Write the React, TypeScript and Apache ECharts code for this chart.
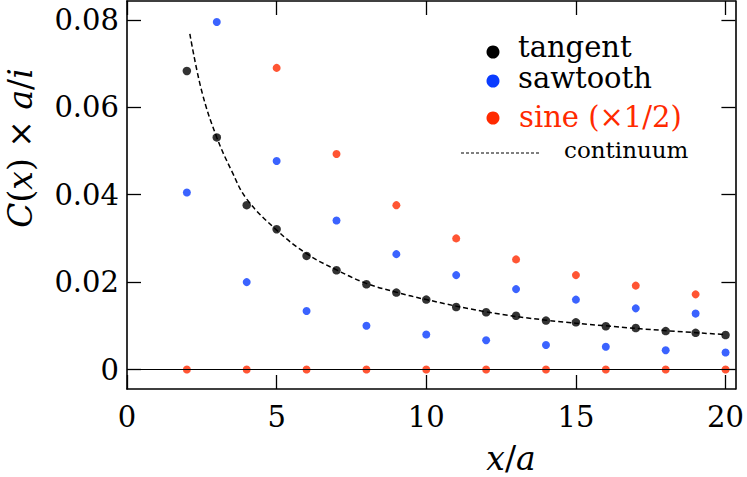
import React, { useEffect, useRef } from "react";
import * as echarts from "echarts";

const xs = [2, 3, 4, 5, 6, 7, 8, 9, 10, 11, 12, 13, 14, 15, 16, 17, 18, 19, 20];
const tangent = [0.0683, 0.0531, 0.0376, 0.0321, 0.026, 0.0227, 0.0195, 0.0176, 0.016, 0.0143, 0.0131, 0.0123, 0.0112, 0.0108, 0.0099, 0.0095, 0.0088, 0.0084, 0.0079];
const sawtooth = [0.0405, 0.0795, 0.02, 0.0477, 0.0134, 0.0341, 0.01, 0.0264, 0.008, 0.0216, 0.0067, 0.0184, 0.0056, 0.016, 0.0052, 0.014, 0.0044, 0.0128, 0.0039];
const sine = [0, null, 0, 0.069, 0, 0.0493, 0, 0.0376, 0, 0.03, 0, 0.0252, 0, 0.0216, 0, 0.0192, 0, 0.0172, 0];
const continuumX = [2.1, 2.5, 3, 3.5, 4, 5, 6, 7, 8, 9, 10, 12, 14, 16, 18, 20];
const continuumY = [0.0768, 0.0636, 0.0531, 0.0454, 0.039, 0.0319, 0.0265, 0.0228, 0.0197, 0.0177, 0.016, 0.0132, 0.0113, 0.01, 0.0089, 0.008];
const xTicks = [0, 5, 10, 15, 20];
const yTicks = [0, 0.02, 0.04, 0.06, 0.08];

const FONT = "DejaVu Serif";
const BLUE = "#0a3cff";
const RED = "#ff2a00";

export default function App() {
  const ref = useRef<HTMLDivElement>(null);
  useEffect(() => {
    if (!ref.current) return;
    const chart = echarts.init(ref.current, undefined, { renderer: "svg" });
    const zip = (arr: (number | null)[]) => xs.map((x, i) => [x, arr[i]]).filter((p) => p[1] !== null);
    const axisLine = { show: true, onZero: false, lineStyle: { color: "#000", width: 1.6 } };
    const xTick = { show: true, inside: true, length: 14, lineStyle: { color: "#000", width: 1.3 }, customValues: xTicks };
    const yTick = { show: true, inside: true, length: 14, lineStyle: { color: "#000", width: 1.3 }, customValues: yTicks };
    const legText = (text: string, x: number, y: number, size: number, fill: string) => ({
      type: "text", x, y,
      style: { text, fontSize: size, fontFamily: FONT, fill, verticalAlign: "middle", align: "left" },
    });
    chart.setOption({
      animation: false,
      backgroundColor: "#fff",
      textStyle: { fontFamily: FONT },
      grid: { left: 127, right: 6, top: 1, bottom: 88 },
      xAxis: [
        {
          type: "value", min: 0, max: 20.33, position: "bottom",
          axisLine, axisTick: xTick, splitLine: { show: false },
          axisLabel: { customValues: xTicks, fontSize: 29, fontFamily: FONT, color: "#000", margin: 13 },
        },
        {
          type: "value", min: 0, max: 20.33, position: "top",
          axisLine, axisTick: xTick, splitLine: { show: false }, axisLabel: { show: false },
        },
      ],
      yAxis: [
        {
          type: "value", min: -0.00445, max: 0.0843, position: "left",
          axisLine, axisTick: yTick, splitLine: { show: false },
          axisLabel: {
            customValues: yTicks, fontSize: 29, fontFamily: FONT, color: "#000", margin: 8,
            formatter: (v: number) => (Math.abs(v) < 1e-9 ? "0" : v.toFixed(2)),
          },
        },
        {
          type: "value", min: -0.00445, max: 0.0843, position: "right",
          axisLine, axisTick: yTick, splitLine: { show: false }, axisLabel: { show: false },
        },
      ],
      series: [
        {
          name: "continuum", type: "line", smooth: 0.4, showSymbol: false, symbol: "none",
          data: continuumX.map((x, i) => [x, continuumY[i]]),
          lineStyle: { color: "#000", width: 1.5, type: [5, 3] },
          markLine: {
            silent: true, symbol: "none", label: { show: false },
            lineStyle: { color: "#000", width: 1, type: "solid" },
            data: [{ yAxis: 0 }],
          },
          z: 2,
        },
        { name: "tangent", type: "scatter", data: zip(tangent), symbolSize: 8.5, itemStyle: { color: "#000" }, z: 3 },
        { name: "sawtooth", type: "scatter", data: zip(sawtooth), symbolSize: 8, itemStyle: { color: BLUE }, z: 3 },
        { name: "sine (×1/2)", type: "scatter", data: zip(sine), symbolSize: 8, itemStyle: { color: RED }, z: 3 },
      ],
      graphic: [
        { type: "circle", shape: { cx: 493, cy: 52, r: 6.5 }, style: { fill: "#000" } },
        { type: "circle", shape: { cx: 493, cy: 81, r: 6.5 }, style: { fill: BLUE } },
        { type: "circle", shape: { cx: 493, cy: 118, r: 6.5 }, style: { fill: RED } },
        legText("tangent", 518, 47, 29, "#000"),
        legText("sawtooth", 518, 78, 29, "#000"),
        legText("sine (×1/2)", 519, 117, 29, RED),
        { type: "line", shape: { x1: 461, y1: 153, x2: 540, y2: 153 }, style: { stroke: "#000", lineWidth: 1.2, lineDash: [3, 2] } },
        legText("continuum", 564, 150, 23, "#000"),
        {
          type: "text", x: 511, y: 458,
          style: {
            text: "{i|x}/{i|a}", fontSize: 33, fontFamily: FONT, fill: "#000", align: "center", verticalAlign: "middle",
            rich: { i: { fontStyle: "italic", fontSize: 33, fontFamily: FONT } },
          },
        },
        {
          type: "text", x: 20, y: 148, rotation: Math.PI / 2,
          style: {
            text: "{i|C}({i|x}) × {i|a}/{i|i}", fontSize: 33, fontFamily: FONT, fill: "#000", align: "center", verticalAlign: "middle",
            rich: { i: { fontStyle: "italic", fontSize: 33, fontFamily: FONT } },
          },
        },
      ],
    });
    return () => chart.dispose();
  }, []);
  return <div ref={ref} style={{ position: "fixed", left: 0, top: 0, width: 747, height: 477 }} />;
}
